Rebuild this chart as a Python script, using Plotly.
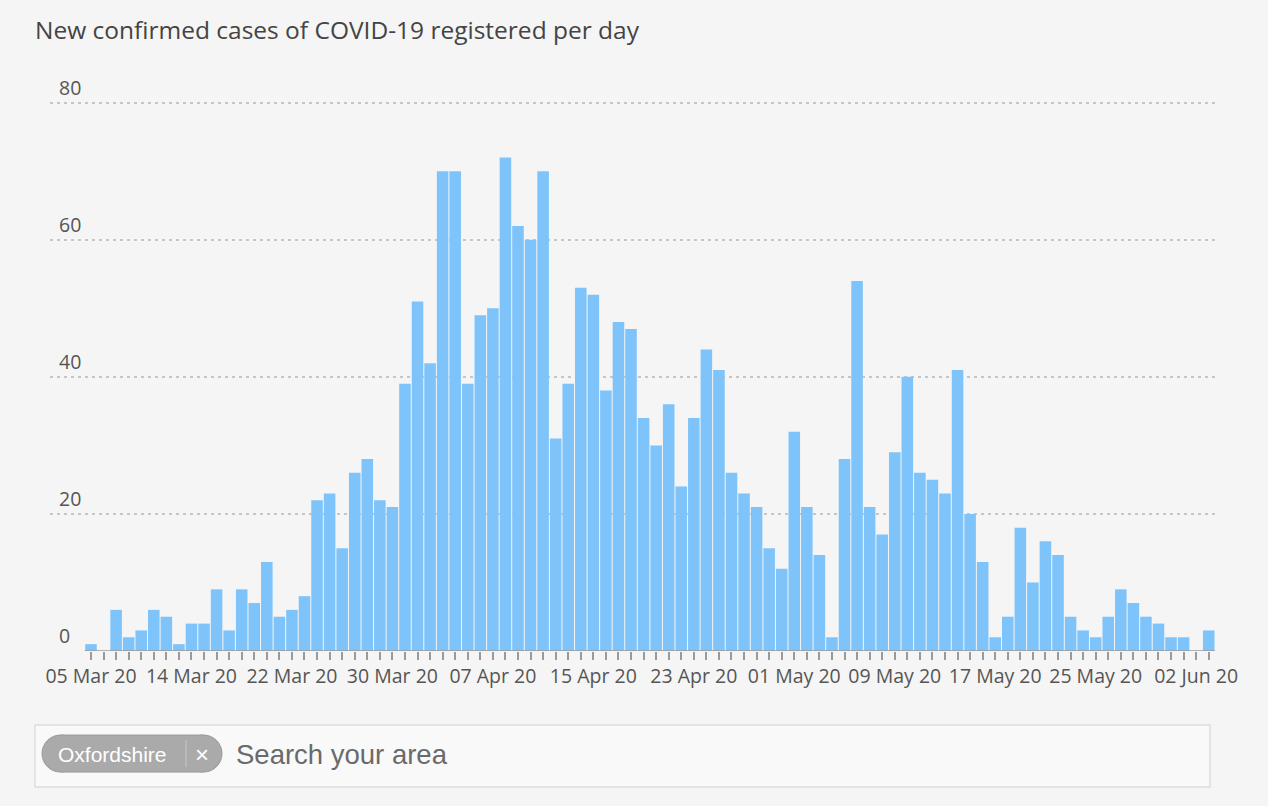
import pandas as pd
import plotly.graph_objects as go

# ---------------- data ----------------
dates = pd.DatetimeIndex(["2020-03-05"]).append(pd.date_range("2020-03-07", "2020-06-03"))
categories = [d.strftime("%d %b %y") for d in dates]
cases = [1, 0, 6, 2, 3, 6, 5, 1, 4, 4, 9, 3, 9, 7, 13, 5, 6, 8, 22, 23, 15, 26, 28,
         22, 21, 39, 51, 42, 70, 70, 39, 49, 50, 72, 62, 60, 70, 31, 39, 53, 52, 38, 48, 47, 34, 30,
         36, 24, 34, 44, 41, 26, 23, 21, 15, 12, 32, 21, 14, 2, 28, 54, 21, 17, 29, 40, 26, 25,
         23, 41, 20, 13, 2, 5, 18, 10, 16, 14, 5, 3, 2, 5, 9, 7, 5, 4, 2, 2, 0, 3]
y_ticks = [0, 20, 40, 60, 80]
label_every = 8
title_text = "New confirmed cases of COVID-19 registered per day"
area_name = "Oxfordshire"
search_placeholder = "Search your area"

# ---------------- layout helpers ----------------
OFF = 8                      # page body margin in the browser
W, H = 1268 - OFF, 806 - OFF
Y_MAX = 80.4
unit_px = (651 - 103) / 80.0
L, R = 50 - OFF, 1215 - OFF
B = 651 - OFF
T = B - Y_MAX * unit_px
BG = "#f5f5f5"


def px(x):
    return (x - OFF - L) / (R - L)


def py(y):
    return (B - (y - OFF)) / (B - T)


ticktext = [c if i % label_every == 0 else "" for i, c in enumerate(categories)]

fig = go.Figure()
fig.add_trace(go.Bar(
    x=categories, y=cases,
    marker=dict(color="rgb(126,196,250)", line=dict(width=0)),
    hoverinfo="x+y",
))

n = len(categories)
bar_px = 12.56
left_pad = (91 - 50) / bar_px

fig.update_layout(
    width=W, height=H,
    margin=dict(l=L, r=W - R, t=T, b=H - B, pad=0),
    paper_bgcolor=BG,
    plot_bgcolor="rgba(0,0,0,0)",
    bargap=0.08,
    showlegend=False,
    font=dict(family="Open Sans, DejaVu Sans, sans-serif", color="#555555"),
    title=dict(
        text=title_text,
        x=(35 - OFF) / W, xref="container", xanchor="left",
        y=1 - (30 - OFF) / H, yref="container", yanchor="middle",
        font=dict(size=24.5, color="#444444", family="Open Sans, sans-serif"),
    ),
    xaxis=dict(
        type="category",
        range=[-left_pad, n - 0.5],
        tickmode="array", tickvals=categories, ticktext=ticktext,
        ticks="outside", ticklen=8, tickwidth=1.5, tickcolor="#9a9a9a",
        tickfont=dict(size=19.5, color="#555555"),
        showgrid=False, zeroline=False, showline=False,
        fixedrange=True,
    ),
    yaxis=dict(
        range=[0, Y_MAX],
        tickmode="array", tickvals=y_ticks,
        ticklabelposition="inside", ticklabelshift=-15, ticklabelstandoff=6,
        ticklabeloverflow="allow",
        tickfont=dict(size=19.5, color="#555555"),
        showgrid=True, gridcolor="#c6c6c6", gridwidth=1.5, griddash="3px,4px",
        zeroline=False, showline=False, ticks="",
        fixedrange=True,
    ),
)

# x-axis baseline under the bars
fig.add_shape(type="line", xref="x", yref="y", x0=-0.5, x1=n - 0.5, y0=0, y1=0,
              line=dict(color="#9a9a9a", width=1.5), layer="above")

# ---- search box below the chart ----
fig.add_shape(type="rect", xref="paper", yref="paper",
              x0=px(35), x1=px(1210), y0=py(725), y1=py(787),
              line=dict(color="#dddddd", width=1.5), fillcolor="#f9f9f9", layer="below")
# pill
pill_l, pill_r, pill_t, pill_b = 42, 222, 735, 772
rad = (pill_b - pill_t) / 2
for cx in (pill_l + rad, pill_r - rad):
    fig.add_shape(type="circle", xref="paper", yref="paper",
                  x0=px(cx - rad), x1=px(cx + rad), y0=py(pill_t), y1=py(pill_b),
                  line=dict(color="#999999", width=1), fillcolor="#aaaaaa")
fig.add_shape(type="rect", xref="paper", yref="paper",
              x0=px(pill_l + rad), x1=px(pill_r - rad), y0=py(pill_t), y1=py(pill_b),
              line=dict(width=0), fillcolor="#aaaaaa")
fig.add_shape(type="line", xref="paper", yref="paper",
              x0=px(pill_l + rad), x1=px(pill_r - rad), y0=py(pill_t), y1=py(pill_t),
              line=dict(color="#999999", width=1))
fig.add_shape(type="line", xref="paper", yref="paper",
              x0=px(pill_l + rad), x1=px(pill_r - rad), y0=py(pill_b), y1=py(pill_b),
              line=dict(color="#999999", width=1))
fig.add_shape(type="line", xref="paper", yref="paper",
              x0=px(186), x1=px(186), y0=py(740), y1=py(767),
              line=dict(color="#c8c8c8", width=1))

fig.add_annotation(x=px(112), y=py(754), xref="paper", yref="paper", showarrow=False,
                   text=area_name, xanchor="center", yanchor="middle",
                   font=dict(family="Liberation Sans, Arial, sans-serif", size=21, color="#ffffff"))
fig.add_annotation(x=px(202), y=py(754), xref="paper", yref="paper", showarrow=False,
                   text="×", xanchor="center", yanchor="middle",
                   font=dict(family="Liberation Sans, Arial, sans-serif", size=24, color="#ffffff"))
fig.add_annotation(x=px(234), y=py(754), xref="paper", yref="paper", showarrow=False,
                   text=search_placeholder, xanchor="left", yanchor="middle",
                   font=dict(family="Liberation Sans, Arial, sans-serif", size=27.5, color="#6a6a6a"))

fig.write_html("out.html", config={"displayModeBar": False},
               post_script="document.body.style.backgroundColor='" + BG + "';")
